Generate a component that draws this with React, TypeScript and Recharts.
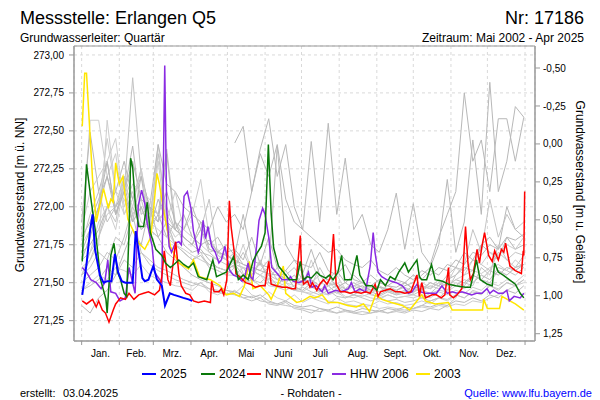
// Grundwasser-Jahresganglinien Messstelle Erlangen Q5 (Recharts)
import { LineChart, Line, XAxis, YAxis, CartesianGrid, ReferenceArea } from 'recharts';

const FONT = '"Liberation Sans", Arial, Helvetica, sans-serif';

// x = Tag im Jahr (0 = 1. Jan.)
const monthStarts = [0, 31, 59, 90, 120, 151, 181, 212, 243, 273, 304, 334, 365];
const monthNames = ['Jan.', 'Feb.', 'Mrz.', 'Apr.', 'Mai', 'Juni', 'Juli', 'Aug.', 'Sept.', 'Okt.', 'Nov.', 'Dez.'];
const leftTicks = [271.25, 271.5, 271.75, 272, 272.25, 272.5, 272.75, 273];
const rightTicks = [-0.5, -0.25, 0, 0.25, 0.5, 0.75, 1, 1.25];

const X_MIN = -6.3;
const X_MAX = 373.2;
const Y_MIN = 271.116;
const Y_MAX = 273.059;
const GROUND = 272.414; // Geländehöhe m ü. NN

const CHART_W = 600;
const AXIS_L = 74;
const AXIS_R = 65;
const PX_PER_DAY = (CHART_W - AXIS_L - AXIS_R) / (X_MAX - X_MIN);

// Wochenwerte der übrigen Jahre
const weekDays = [0, 7, 14, 21, 28, 35, 42, 49, 56, 63, 70, 77, 84, 91, 98, 105, 112, 119, 126, 133, 140, 147, 154, 161, 168, 175, 182, 189, 196, 203, 210, 217, 224, 231, 238, 245, 252, 259, 266, 273, 280, 287, 294, 301, 308, 315, 322, 329, 336, 343, 350, 357, 364];

const g2002 = [null, null, null, null, null, null, null, null, null, null, null, null, null, null, null, null, null, null, 272.42, 272.53, 272.10, 272.35, 272.20, 272.41, 272.05, 271.90, 271.85, 272.43, 271.90, 272.55, 271.95, 272.32, 271.85, 271.95, 271.75, 271.70, 271.85, 272.09, 271.72, 272.02, 271.70, 271.62, 271.80, 271.95, 272.10, 272.75, 272.30, 272.44, 272.10, 272.58, 272.58, 272.30, 272.59];
const g2004 = [271.80, 272.57, 272.57, 272.20, 272.35, 271.95, 272.10, 271.90, 271.85, 272.30, 271.85, 271.75, 271.70, 271.65, 271.70, 271.60, 271.58, 271.55, 271.55, 271.50, 271.52, 271.48, 271.50, 271.47, 271.45, 271.48, 271.44, 271.43, 271.45, 271.42, 271.44, 271.40, 271.42, 271.41, 271.43, 271.40, 271.42, 271.40, 271.41, 271.42, 271.40, 271.43, 271.45, 271.44, 271.48, 271.46, 271.50, 271.55, 271.52, 271.58, 271.55, 271.60, 271.62];
const g2005 = [271.65, 271.70, 271.80, 271.95, 272.00, 272.10, 272.85, 272.20, 272.00, 271.95, 272.38, 271.90, 271.80, 271.75, 271.85, 271.70, 271.65, 271.62, 271.60, 271.70, 271.58, 271.55, 271.60, 271.52, 271.50, 271.55, 271.50, 271.48, 271.60, 271.50, 271.48, 271.46, 271.50, 271.47, 271.45, 271.48, 271.45, 271.44, 271.50, 271.46, 271.45, 271.48, 271.46, 271.50, 271.48, 271.52, 271.50, 271.55, 271.52, 271.60, 271.58, 271.55, 271.60];
const g2007 = [271.90, 272.49, 272.10, 272.30, 271.95, 272.15, 271.90, 272.20, 271.85, 271.95, 271.80, 271.90, 271.75, 271.70, 271.72, 271.65, 271.60, 271.58, 271.62, 271.55, 271.52, 271.65, 271.50, 271.48, 271.55, 271.47, 271.45, 271.50, 271.44, 271.48, 271.43, 271.45, 271.42, 271.46, 271.44, 271.42, 271.45, 271.43, 271.44, 271.48, 271.45, 271.50, 271.48, 271.52, 271.55, 271.60, 271.58, 271.75, 271.70, 271.65, 271.80, 271.72, 271.75];
const g2008 = [271.75, 271.85, 272.00, 272.45, 272.10, 271.95, 272.05, 271.85, 271.90, 272.41, 271.90, 271.80, 271.85, 271.95, 272.18, 271.80, 271.70, 271.65, 271.60, 271.75, 271.58, 271.55, 271.52, 271.60, 271.50, 271.48, 271.55, 271.47, 271.45, 271.50, 271.46, 271.44, 271.48, 271.45, 271.43, 271.47, 271.44, 271.42, 271.45, 271.43, 271.50, 271.47, 271.52, 271.50, 271.60, 271.55, 271.65, 271.62, 271.70, 271.68, 271.75, 271.72, 271.80];
const g2009 = [271.50, 271.55, 271.60, 271.70, 271.65, 271.80, 272.00, 271.85, 271.90, 272.35, 271.95, 271.85, 271.80, 271.75, 271.85, 272.05, 271.68, 271.65, 271.70, 271.62, 271.60, 271.58, 271.65, 271.56, 271.55, 271.60, 271.52, 271.50, 271.55, 271.48, 271.50, 271.46, 271.48, 271.50, 271.45, 271.44, 271.48, 271.45, 271.47, 271.44, 271.46, 271.50, 271.48, 271.55, 271.60, 271.58, 271.65, 271.62, 271.58, 271.70, 271.65, 271.60, 271.68];
const g2010 = [271.80, 271.90, 272.05, 272.20, 272.00, 272.10, 272.30, 272.05, 272.00, 271.95, 272.10, 271.90, 271.85, 272.00, 271.85, 271.75, 271.80, 271.70, 271.72, 271.65, 271.80, 271.62, 271.60, 272.40, 271.75, 271.65, 271.62, 271.60, 271.70, 271.58, 271.55, 271.62, 271.52, 271.50, 271.55, 271.50, 271.48, 271.52, 271.50, 271.55, 271.52, 271.58, 271.55, 271.62, 271.60, 271.70, 271.65, 271.75, 271.80, 271.72, 272.00, 271.85, 271.80];
const g2011 = [271.60, 271.65, 271.75, 272.57, 272.10, 272.05, 271.90, 272.00, 271.85, 271.80, 271.90, 271.75, 271.70, 271.65, 271.68, 271.60, 271.58, 271.55, 271.60, 271.52, 271.50, 271.55, 271.48, 271.47, 271.50, 271.45, 271.44, 271.48, 271.43, 271.42, 271.45, 271.41, 271.40, 271.42, 271.40, 271.39, 271.42, 271.40, 271.41, 271.40, 271.42, 271.40, 271.44, 271.42, 271.45, 271.43, 271.47, 271.45, 271.50, 271.48, 271.52, 271.50, 271.55];
const g2012 = [271.55, 271.65, 271.80, 272.00, 271.90, 272.20, 272.05, 272.25, 271.95, 271.90, 272.00, 271.85, 271.80, 271.75, 271.70, 271.68, 271.65, 271.70, 271.62, 271.60, 271.58, 271.62, 271.55, 271.52, 271.58, 271.50, 271.48, 271.52, 271.46, 271.45, 271.48, 271.44, 271.42, 271.45, 271.42, 271.41, 271.44, 271.42, 271.43, 271.42, 271.45, 271.43, 271.48, 271.45, 271.50, 271.48, 271.55, 271.52, 271.50, 271.58, 271.55, 271.60, 271.62];
const g2013 = [271.70, 271.75, 271.85, 272.00, 272.10, 272.30, 272.05, 272.20, 272.00, 272.41, 272.15, 272.10, 272.00, 271.95, 271.90, 271.85, 272.00, 271.90, 271.95, 271.85, 272.10, 272.38, 272.58, 272.20, 272.41, 272.00, 271.85, 271.80, 271.75, 271.70, 271.72, 271.65, 271.62, 271.60, 271.65, 271.58, 271.55, 271.60, 271.55, 271.52, 271.58, 271.55, 271.60, 271.58, 271.65, 271.62, 271.70, 271.68, 271.75, 271.72, 271.80, 271.78, 271.82];
const g2014 = [271.45, 271.50, 271.55, 271.52, 271.60, 271.58, 271.55, 271.62, 271.55, 271.52, 271.50, 271.48, 271.47, 271.45, 271.50, 271.44, 271.42, 271.45, 271.43, 271.48, 271.42, 271.40, 271.44, 271.40, 271.38, 271.42, 271.37, 271.40, 271.38, 271.36, 271.40, 271.37, 271.38, 271.36, 271.35, 271.38, 271.36, 271.37, 271.35, 271.36, 271.38, 271.36, 271.40, 271.38, 271.42, 271.40, 271.45, 271.43, 271.48, 271.46, 271.50, 271.48, 271.52];
const g2015 = [271.75, 271.95, 272.10, 271.90, 272.00, 272.20, 271.95, 272.05, 271.85, 271.80, 271.90, 271.75, 271.70, 271.65, 271.68, 271.62, 271.60, 271.58, 271.55, 271.60, 271.52, 271.50, 271.55, 271.48, 271.47, 271.45, 271.47, 271.44, 271.42, 271.45, 271.41, 271.40, 271.42, 271.40, 271.38, 271.40, 271.38, 271.39, 271.37, 271.38, 271.40, 271.38, 271.40, 271.39, 271.42, 271.40, 271.44, 271.42, 271.48, 271.45, 271.50, 271.48, 271.52];
const g2016 = [271.65, 271.80, 272.00, 272.30, 271.95, 272.10, 272.40, 271.95, 272.00, 271.90, 272.35, 271.85, 271.80, 271.75, 271.90, 271.72, 271.70, 271.75, 271.68, 271.95, 271.65, 271.62, 271.80, 271.60, 271.58, 271.65, 271.56, 271.72, 271.55, 271.52, 271.58, 271.50, 271.55, 271.50, 271.48, 271.52, 271.48, 271.47, 271.50, 271.46, 271.48, 271.46, 271.50, 271.48, 271.52, 271.50, 271.55, 271.52, 271.58, 271.55, 271.60, 271.58, 271.62];
const g2018 = [271.85, 272.10, 272.20, 272.30, 272.45, 272.00, 272.15, 272.10, 272.05, 271.95, 271.90, 272.10, 271.85, 271.80, 271.75, 271.70, 271.72, 271.65, 271.62, 271.60, 271.58, 271.55, 271.52, 271.50, 271.48, 271.45, 271.44, 271.42, 271.40, 271.38, 271.37, 271.36, 271.35, 271.34, 271.35, 271.33, 271.34, 271.33, 271.32, 271.33, 271.34, 271.33, 271.35, 271.34, 271.36, 271.35, 271.38, 271.37, 271.40, 271.42, 271.45, 271.48, 271.50];
const g2019 = [271.45, 271.48, 271.52, 271.60, 271.55, 271.65, 271.60, 271.70, 271.62, 271.58, 271.55, 271.52, 271.50, 271.48, 271.50, 271.46, 271.44, 271.42, 271.45, 271.40, 271.38, 271.40, 271.36, 271.35, 271.37, 271.33, 271.32, 271.30, 271.33, 271.31, 271.30, 271.32, 271.30, 271.31, 271.30, 271.32, 271.30, 271.31, 271.30, 271.32, 271.31, 271.33, 271.32, 271.35, 271.40, 271.50, 271.48, 271.60, 271.55, 271.75, 271.65, 271.70, 271.68];
const g2020 = [271.35, 271.30, 271.40, 271.45, 271.55, 271.70, 271.85, 271.75, 272.00, 271.80, 271.70, 271.65, 271.60, 271.55, 271.52, 271.50, 271.48, 271.45, 271.44, 271.42, 271.40, 271.42, 271.38, 271.36, 271.38, 271.35, 271.34, 271.35, 271.33, 271.32, 271.34, 271.32, 271.31, 271.33, 271.32, 271.31, 271.33, 271.32, 271.34, 271.33, 271.35, 271.34, 271.36, 271.35, 271.38, 271.37, 271.40, 271.38, 271.42, 271.40, 271.45, 271.43, 271.48];
const g2021 = [271.55, 271.70, 271.90, 272.00, 271.85, 272.15, 272.00, 272.25, 271.90, 271.85, 271.80, 271.75, 271.72, 271.68, 271.65, 271.62, 271.60, 271.58, 271.70, 271.56, 271.55, 271.65, 271.52, 271.60, 271.50, 271.55, 271.48, 271.65, 271.50, 271.48, 271.55, 271.46, 271.50, 271.45, 271.47, 271.44, 271.46, 271.43, 271.45, 271.44, 271.48, 271.46, 271.50, 271.48, 271.52, 271.55, 271.58, 271.56, 271.60, 271.62, 271.58, 271.65, 271.60];
const g2022 = [271.55, 271.60, 271.70, 271.65, 271.80, 271.75, 271.95, 271.70, 271.65, 271.60, 271.58, 271.55, 271.52, 271.50, 271.48, 271.46, 271.45, 271.43, 271.42, 271.40, 271.41, 271.38, 271.37, 271.36, 271.35, 271.34, 271.33, 271.32, 271.31, 271.32, 271.30, 271.31, 271.30, 271.29, 271.30, 271.31, 271.30, 271.32, 271.31, 271.33, 271.35, 271.38, 271.40, 271.45, 271.55, 271.62, 271.85, 271.70, 272.05, 271.80, 271.95, 271.85, 271.90];
const g2023 = [271.70, 271.85, 272.00, 272.20, 271.95, 272.10, 271.90, 272.00, 271.85, 272.05, 271.90, 271.85, 271.95, 271.80, 271.75, 271.78, 271.70, 271.68, 271.65, 271.62, 271.60, 271.58, 271.56, 271.55, 271.53, 271.52, 271.50, 271.52, 271.48, 271.55, 271.47, 271.50, 271.46, 271.48, 271.45, 271.47, 271.46, 271.45, 271.48, 271.50, 271.55, 271.60, 271.75, 272.18, 271.70, 271.90, 272.44, 271.95, 272.82, 272.10, 272.30, 272.66, 272.59];

const greyYears = [g2002, g2004, g2005, g2007, g2008, g2009, g2010, g2011, g2012, g2013, g2014, g2015, g2016, g2018, g2019, g2020, g2021, g2022, g2023];
const greyShades = ['#b8b8b8', '#cdcdcd', '#c3c3c3'];

// hervorgehobene Jahre: [Tag, Wasserstand]
const y2003 = [[0.5, 272.53], [2.5, 272.88], [4, 272.88], [9, 272.18], [12, 271.90], [18, 272.12], [22, 271.99], [24, 272.05], [26, 272.03], [28, 272.29], [31, 272.15], [34, 272.20], [38, 271.92], [42, 271.85], [47, 271.76], [52, 271.72], [57, 271.80], [62, 272.22], [64, 272.15], [67, 272.00], [73, 271.74], [80, 271.63], [88, 271.59], [92, 271.65], [97, 271.54], [106, 271.52], [114, 271.48], [119, 271.42], [125, 271.43], [130, 271.41], [134, 271.48], [138, 271.64], [141, 271.46], [147, 271.48], [154, 271.42], [156, 271.39], [161, 271.48], [166, 271.61], [168, 271.43], [177, 271.37], [182, 271.38], [188, 271.41], [192, 271.40], [198, 271.42], [203, 271.37], [211, 271.37], [219, 271.35], [226, 271.34], [232, 271.36], [237, 271.31], [242, 271.42], [247, 271.39], [255, 271.37], [264, 271.35], [270, 271.32], [275, 271.37], [280, 271.42], [283, 271.38], [291, 271.36], [302, 271.37], [305, 271.32], [316, 271.32], [330, 271.32], [331, 271.39], [334, 271.33], [344, 271.33], [346, 271.41], [357, 271.36], [364, 271.32]];
const y2006 = [[0.5, 271.60], [4, 271.57], [7.5, 271.52], [12, 271.50], [16, 271.46], [19, 271.50], [21.5, 271.65], [24, 271.44], [28, 271.43], [31.5, 271.38], [36, 271.40], [39, 271.60], [44, 271.43], [46.6, 272.01], [49.4, 272.11], [52, 272.02], [54, 271.89], [58, 271.74], [60, 271.57], [66, 271.50], [68.4, 272.93], [70, 271.99], [72, 271.74], [74, 271.70], [77, 271.76], [80, 271.77], [82, 271.75], [84.3, 272.07], [87, 272.10], [90, 271.99], [92, 271.84], [96, 271.70], [98, 271.75], [100, 271.91], [102, 271.79], [104, 271.87], [107, 271.74], [110, 271.70], [113, 271.63], [115, 271.65], [118, 271.74], [120, 271.65], [122, 271.58], [125, 271.55], [128, 271.54], [132, 271.51], [134, 271.53], [137, 271.63], [139, 271.54], [141, 271.52], [144, 271.74], [146, 271.91], [149, 271.99], [151, 271.95], [154, 271.80], [156.5, 271.60], [161, 271.56], [165, 271.52], [170, 271.52], [172, 271.54], [174, 271.51], [179, 271.50], [184, 271.52], [186.7, 271.57], [189.6, 271.47], [193, 271.48], [198, 271.44], [200, 271.48], [203, 271.43], [209, 271.45], [214, 271.44], [219.6, 271.46], [222, 271.50], [225, 271.44], [229, 271.46], [233.6, 271.44], [237.5, 271.61], [240, 271.83], [241.5, 271.70], [244, 271.57], [247, 271.54], [251, 271.52], [255, 271.51], [259, 271.50], [264, 271.48], [269, 271.43], [272, 271.44], [276, 271.49], [279, 271.44], [283, 271.43], [288, 271.43], [292, 271.43], [294, 271.45], [296.6, 271.48], [301, 271.43], [305, 271.44], [309, 271.43], [313, 271.44], [317, 271.43], [321, 271.42], [325, 271.43], [329.6, 271.43], [333.7, 271.46], [336, 271.43], [339, 271.45], [343, 271.43], [347, 271.43], [350, 271.45], [352, 271.38], [356, 271.41], [361, 271.40], [364, 271.43]];
const y2017 = [[0.5, 271.38], [4, 271.36], [9, 271.39], [12, 271.34], [14, 271.38], [17, 271.32], [19.6, 271.30], [22.5, 271.24], [26, 271.32], [28, 271.36], [32, 271.40], [36, 271.39], [39, 271.43], [43, 271.39], [47, 271.42], [51, 271.43], [55, 271.44], [60, 271.42], [64, 271.45], [66, 271.54], [68, 271.71], [71, 271.52], [73, 271.48], [75, 271.61], [77.4, 271.77], [80, 271.56], [82, 271.48], [85.7, 271.43], [89, 271.42], [92, 271.38], [96, 271.37], [101, 271.38], [106, 271.37], [107, 271.51], [109, 271.44], [113, 271.44], [115, 271.46], [117, 271.42], [119.5, 271.52], [121.6, 272.04], [123, 271.87], [125.5, 271.71], [127, 271.56], [130, 271.54], [135, 271.50], [139, 271.49], [143, 271.47], [147, 271.48], [151, 271.48], [154, 271.64], [156, 271.49], [160, 271.48], [165, 271.47], [169, 271.47], [173, 271.46], [176, 271.46], [178, 271.63], [180, 271.81], [181, 271.60], [182.6, 271.49], [186, 271.51], [188, 271.47], [190, 271.50], [193.6, 271.45], [196, 271.49], [199, 271.52], [202, 271.49], [204.6, 271.53], [207.3, 271.82], [209.5, 271.49], [213, 271.44], [217, 271.44], [221, 271.43], [225, 271.44], [230, 271.43], [234, 271.44], [237.5, 271.43], [241.6, 271.49], [244, 271.41], [246, 271.44], [250, 271.45], [254, 271.46], [258.6, 271.44], [262, 271.44], [266, 271.43], [271, 271.44], [274.6, 271.52], [276, 271.55], [278, 271.41], [280, 271.50], [283, 271.40], [288.5, 271.42], [292, 271.42], [296, 271.40], [299, 271.42], [302, 271.60], [303, 271.42], [306, 271.40], [309, 271.42], [313, 271.46], [316, 271.87], [318, 271.63], [320, 271.52], [322.5, 271.56], [325.5, 271.72], [327.5, 271.63], [329.5, 271.74], [331.7, 271.83], [335, 271.68], [338, 271.64], [340, 271.71], [343, 271.65], [345.6, 271.72], [347.5, 271.70], [349, 271.76], [352.6, 271.61], [357, 271.58], [362, 271.56], [363.5, 271.71], [364, 271.68], [364.7, 272.10]];
const y2024 = [[0.5, 271.64], [4, 272.28], [8, 272.03], [11.5, 271.83], [15.6, 271.52], [20, 271.39], [21, 271.30], [24, 271.68], [26.6, 271.76], [29.5, 271.57], [32, 271.52], [35, 271.43], [37, 271.41], [39, 271.83], [40.3, 272.32], [42, 272.26], [44.5, 271.99], [47, 271.87], [51, 271.87], [54, 272.03], [56.5, 271.83], [61, 271.72], [66, 271.68], [69, 271.63], [73, 271.60], [76, 271.62], [80, 271.65], [84, 271.62], [88, 271.60], [92, 271.63], [96, 271.54], [103, 271.52], [108, 271.65], [111, 271.54], [119, 271.57], [125, 271.67], [129, 271.52], [133, 271.55], [137, 271.52], [141, 271.64], [144, 271.69], [148, 271.74], [151, 271.83], [153.7, 272.41], [156, 271.96], [158, 271.73], [162, 271.61], [166, 271.57], [171, 271.52], [177, 271.52], [180, 271.64], [182.5, 271.52], [186, 271.54], [189, 271.53], [193.6, 271.57], [196, 271.55], [201, 271.53], [204, 271.55], [207, 271.52], [211, 271.57], [214, 271.68], [216.5, 271.52], [222, 271.52], [226.6, 271.68], [229, 271.55], [234, 271.48], [239, 271.48], [243, 271.45], [246, 271.52], [250, 271.48], [254, 271.54], [258, 271.52], [261, 271.57], [266, 271.63], [269, 271.57], [276, 271.65], [278, 271.54], [280, 271.52], [284, 271.52], [288, 271.62], [291, 271.52], [297, 271.51], [302, 271.49], [308, 271.48], [316, 271.47], [320, 271.47], [323, 271.57], [325, 271.65], [328, 271.52], [334, 271.49], [338, 271.48], [340, 271.63], [343, 271.57], [347, 271.55], [352, 271.52], [357, 271.49], [361, 271.43], [364, 271.40]];
const y2025 = [[0.5, 271.42], [4, 271.62], [7, 271.85], [9, 271.95], [11, 271.72], [15, 271.55], [18, 271.50], [21, 271.51], [24.5, 271.51], [27.4, 271.69], [30, 271.57], [33, 271.51], [36, 271.50], [38.6, 271.50], [42, 271.50], [44.5, 271.84], [47, 271.70], [50, 271.53], [52, 271.51], [55, 271.52], [59, 271.61], [62, 271.52], [66, 271.48], [68.6, 271.35], [72.6, 271.43], [76, 271.42], [80, 271.41], [83.7, 271.40], [88, 271.39], [91, 271.38]];

const highlighted = [
  { name: '2003', color: '#ffe600', width: 1.5, pts: y2003 },
  { name: 'HHW 2006', color: '#8a2be2', width: 1.5, pts: y2006 },
  { name: 'NNW 2017', color: '#ff0000', width: 1.5, pts: y2017 },
  { name: '2024', color: '#0a780a', width: 1.5, pts: y2024 },
  { name: '2025', color: '#0000ff', width: 2, pts: y2025 },
];

const legendItems = [
  { label: '2025', color: '#0000ff', x: 142 },
  { label: '2024', color: '#0a780a', x: 201 },
  { label: 'NNW 2017', color: '#ff0000', x: 247 },
  { label: 'HHW 2006', color: '#8a2be2', x: 332 },
  { label: '2003', color: '#ffe600', x: 416 },
];

const fmt = (v: number) => v.toFixed(2).replace('.', ',');

// Monatsname mittig zwischen zwei Monatsgrenzen
function MonthTick(props: any) {
  const { x, y, payload } = props;
  const i = monthStarts.indexOf(payload.value);
  if (i < 0 || i >= monthNames.length) return <g />;
  const half = ((monthStarts[i + 1] - monthStarts[i]) / 2) * PX_PER_DAY;
  return (
    <text x={x + half} y={y + 3} dy="0.71em" textAnchor="middle" fontSize={10} fill="#000" fontFamily={FONT}>
      {monthNames[i]}
    </text>
  );
}

export default function App() {
  return (
    <div style={{ position: 'relative', width: 600, height: 400, background: '#fff' }}>
      <style>{'body{margin:0}'}</style>
      <LineChart width={CHART_W} height={400} margin={{ top: 46, right: 0, bottom: 39, left: 0 }}>
        <CartesianGrid xAxisId="months" yAxisId="left" stroke="#d9d9d9" strokeDasharray="3 3" />
        <XAxis
          xAxisId="months"
          dataKey="d"
          type="number"
          domain={[X_MIN, X_MAX]}
          allowDataOverflow
          ticks={monthStarts}
          interval={0}
          tick={<MonthTick />}
          tickSize={4}
          height={20}
          axisLine={{ stroke: '#999' }}
          tickLine={{ stroke: '#999' }}
        />
        <YAxis
          yAxisId="left"
          type="number"
          domain={[Y_MIN, Y_MAX]}
          allowDataOverflow
          ticks={leftTicks}
          interval={0}
          tickFormatter={fmt}
          width={AXIS_L}
          tickSize={5}
          tickMargin={5}
          axisLine={{ stroke: '#999' }}
          tickLine={{ stroke: '#999' }}
          tick={{ fontSize: 10, fill: '#000', fontFamily: FONT }}
        />
        <YAxis
          yAxisId="right"
          orientation="right"
          type="number"
          reversed
          domain={[GROUND - Y_MAX, GROUND - Y_MIN]}
          allowDataOverflow
          ticks={rightTicks}
          interval={0}
          tickFormatter={fmt}
          width={AXIS_R}
          tickSize={5}
          tickMargin={3}
          axisLine={{ stroke: '#999' }}
          tickLine={{ stroke: '#999' }}
          tick={{ fontSize: 10, fill: '#000', fontFamily: FONT }}
        />
        <ReferenceArea
          xAxisId="months"
          yAxisId="left"
          x1={X_MIN}
          x2={X_MAX}
          y1={Y_MIN}
          y2={Y_MAX}
          fill="none"
          stroke="#999"
        />
        {greyYears.map((vals, i) => (
          <Line
            key={'g' + i}
            xAxisId="months"
            yAxisId="left"
            data={weekDays.map((d, j) => ({ d, v: vals[j] }))}
            dataKey="v"
            type="linear"
            stroke={greyShades[i % greyShades.length]}
            strokeWidth={1}
            dot={false}
            activeDot={false}
            isAnimationActive={false}
          />
        ))}
        {highlighted.map((s) => (
          <Line
            key={s.name}
            xAxisId="months"
            yAxisId="left"
            data={s.pts.map(([d, v]) => ({ d, v }))}
            dataKey="v"
            type="linear"
            stroke={s.color}
            strokeWidth={s.width}
            dot={false}
            activeDot={false}
            isAnimationActive={false}
          />
        ))}
      </LineChart>
      <svg
        width={600}
        height={400}
        style={{ position: 'absolute', left: 0, top: 0, pointerEvents: 'none' }}
        fontFamily={FONT}
      >
        <text x={20} y={24} fontSize={18}>Messstelle: Erlangen Q5</text>
        <text x={584} y={24} fontSize={18} textAnchor="end">Nr: 17186</text>
        <text x={20} y={42} fontSize={12}>Grundwasserleiter: Quartär</text>
        <text x={584} y={42} fontSize={12} textAnchor="end">Zeitraum: Mai 2002 - Apr 2025</text>
        <text x={24} y={195} fontSize={12} textAnchor="middle" transform="rotate(-90 24 195)">
          Grundwasserstand [m ü. NN]
        </text>
        <text x={576} y={192} fontSize={12} textAnchor="middle" transform="rotate(90 576 192)">
          Grundwasserstand [m u. Gelände]
        </text>
        {legendItems.map((it) => (
          <g key={it.label}>
            <line x1={it.x} x2={it.x + 14} y1={374} y2={374} stroke={it.color} strokeWidth={2} />
            <text x={it.x + 18} y={378} fontSize={12}>{it.label}</text>
          </g>
        ))}
        <text x={20} y={397} fontSize={11}>erstellt:</text>
        <text x={63} y={397} fontSize={11}>03.04.2025</text>
        <text x={311} y={397} fontSize={11} textAnchor="middle">- Rohdaten -</text>
        <text x={592} y={397} fontSize={11} textAnchor="end" fill="#0000ff">Quelle: www.lfu.bayern.de</text>
      </svg>
    </div>
  );
}
